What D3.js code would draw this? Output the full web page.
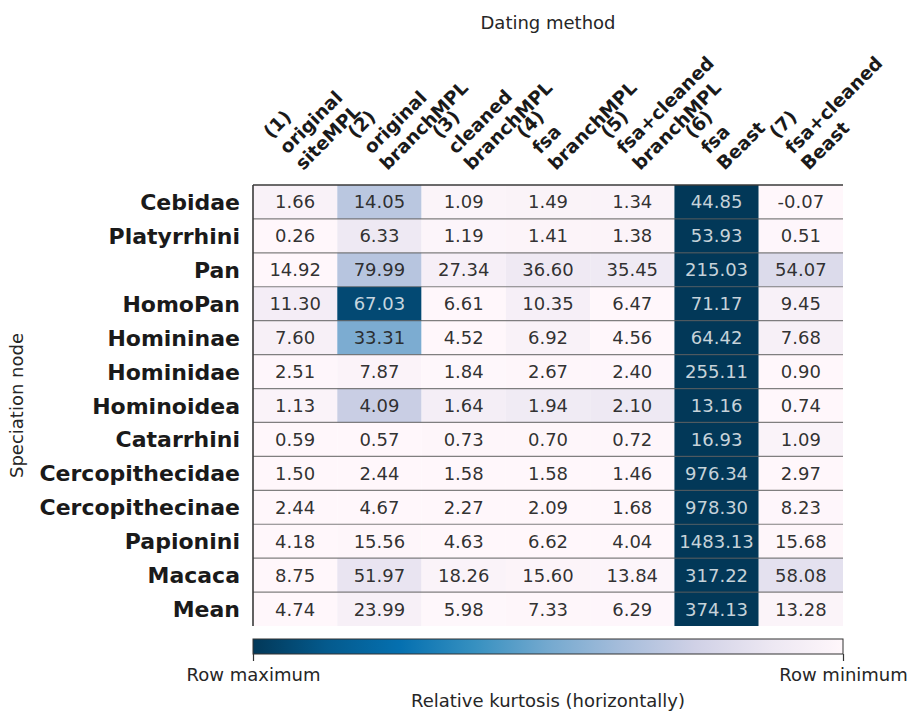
<!DOCTYPE html>
<html>
<head>
<meta charset="utf-8">
<script src="https://cdn.jsdelivr.net/npm/d3@7"></script>
<style>
  html, body { margin: 0; padding: 0; background: #fff; }
  svg { display: block; font-family: "DejaVu Sans", sans-serif; }
</style>
</head>
<body>
<svg id="chart" width="911" height="711"></svg>
<script>
// Speciation nodes (rows)
const speciationNodes = ["Cebidae", "Platyrrhini", "Pan", "HomoPan", "Homininae", "Hominidae",
  "Hominoidea", "Catarrhini", "Cercopithecidae", "Cercopithecinae", "Papionini", "Macaca", "Mean"];

// Dating methods (columns), each label split into its lines
const methodLabels = [
  ["(1)", "original", "siteMPL"],
  ["(2)", "original", "branchMPL"],
  ["(3)", "cleaned", "branchMPL"],
  ["(4)", "fsa", "branchMPL"],
  ["(5)", "fsa+cleaned", "branchMPL"],
  ["(6)", "fsa", "Beast"],
  ["(7)", "fsa+cleaned", "Beast"]
];

// Kurtosis per dating method, one value per speciation node
const originalSiteMPL     = [1.66, 0.26, 14.92, 11.30, 7.60, 2.51, 1.13, 0.59, 1.50, 2.44, 4.18, 8.75, 4.74];
const originalBranchMPL   = [14.05, 6.33, 79.99, 67.03, 33.31, 7.87, 4.09, 0.57, 2.44, 4.67, 15.56, 51.97, 23.99];
const cleanedBranchMPL    = [1.09, 1.19, 27.34, 6.61, 4.52, 1.84, 1.64, 0.73, 1.58, 2.27, 4.63, 18.26, 5.98];
const fsaBranchMPL        = [1.49, 1.41, 36.60, 10.35, 6.92, 2.67, 1.94, 0.70, 1.58, 2.09, 6.62, 15.60, 7.33];
const fsaCleanedBranchMPL = [1.34, 1.38, 35.45, 6.47, 4.56, 2.40, 2.10, 0.72, 1.46, 1.68, 4.04, 13.84, 6.29];
const fsaBeast            = [44.85, 53.93, 215.03, 71.17, 64.42, 255.11, 13.16, 16.93, 976.34, 978.30, 1483.13, 317.22, 374.13];
const fsaCleanedBeast     = [-0.07, 0.51, 54.07, 9.45, 7.68, 0.90, 0.74, 1.09, 2.97, 8.23, 15.68, 58.08, 13.28];

const methodSeries = [originalSiteMPL, originalBranchMPL, cleanedBranchMPL, fsaBranchMPL,
  fsaCleanedBranchMPL, fsaBeast, fsaCleanedBeast];

const colorbarLabels = ["Row maximum", "Row minimum"];

// PuBu colour ramp (light to dark)
const pubu = ["#fff7fb", "#ece7f2", "#d0d1e6", "#a6bddb", "#74a9cf", "#3690c0", "#0570b0", "#045a8d", "#023858"];

const svg = d3.select("#chart");
const plotLeft = 253, plotRight = 843, plotTop = 185, plotBottom = 626;

const x = d3.scaleBand().domain(d3.range(methodLabels.length)).range([plotLeft, plotRight]);
const y = d3.scaleBand().domain(speciationNodes).range([plotTop, plotBottom]);
const color = d3.scaleLinear()
  .domain(d3.range(pubu.length).map(i => i / (pubu.length - 1)))
  .range(pubu)
  .interpolate(d3.interpolateRgb)
  .clamp(true);

// Flatten into cells; colour is relative within each row
const cells = [];
speciationNodes.forEach((node, r) => {
  const row = methodSeries.map(s => s[r]);
  const lo = d3.min(row), hi = d3.max(row);
  row.forEach((v, c) => cells.push({ node, c, v, t: (v - lo) / (hi - lo) }));
});

function luminance(c) {
  const rgb = d3.rgb(c);
  const f = u => { u /= 255; return u <= 0.03928 ? u / 12.92 : Math.pow((u + 0.055) / 1.055, 2.4); };
  return 0.2126 * f(rgb.r) + 0.7152 * f(rgb.g) + 0.0722 * f(rgb.b);
}
const isLight = d => luminance(color(d.t)) > 0.3;

const g = svg.append("g");
g.selectAll("rect.cell").data(cells).join("rect")
  .attr("class", "cell")
  .attr("x", d => x(d.c))
  .attr("y", d => y(d.node))
  .attr("width", x.bandwidth())
  .attr("height", y.bandwidth())
  .attr("fill", d => color(d.t));

// Row separators
g.selectAll("line.sep").data(speciationNodes.slice(1)).join("line")
  .attr("class", "sep")
  .attr("x1", plotLeft).attr("x2", plotRight)
  .attr("y1", d => y(d)).attr("y2", d => y(d))
  .attr("stroke", "#555").attr("stroke-opacity", 0.75).attr("stroke-width", 1.2);

// Cell annotations
g.selectAll("text.val").data(cells).join("text")
  .attr("class", "val")
  .attr("x", d => x(d.c) + x.bandwidth() / 2)
  .attr("y", d => y(d.node) + y.bandwidth() / 2 + 6.5)
  .attr("text-anchor", "middle")
  .attr("font-size", 18)
  .attr("fill", d => isLight(d) ? "#262626" : "#ffffff")
  .attr("fill-opacity", d => isLight(d) ? 0.95 : 0.78)
  .text(d => d.v.toFixed(2));

// Frame: top and left spines
svg.append("line").attr("x1", plotLeft).attr("x2", plotRight).attr("y1", plotTop).attr("y2", plotTop)
  .attr("stroke", "#3a3a3a").attr("stroke-width", 1.6);
svg.append("line").attr("x1", plotLeft).attr("x2", plotLeft).attr("y1", plotTop).attr("y2", plotBottom)
  .attr("stroke", "#3a3a3a").attr("stroke-width", 1.6);

// Row labels
svg.append("g").selectAll("text").data(speciationNodes).join("text")
  .attr("x", plotLeft - 13)
  .attr("y", d => y(d) + y.bandwidth() / 2 + 8)
  .attr("text-anchor", "end")
  .attr("font-size", 22)
  .attr("font-weight", "bold")
  .attr("fill", "#1a1a1a")
  .text(d => d);

// Column labels, rotated 45 degrees, anchored at the last line
const lineStep = 22.5;
const colLabels = svg.append("g").selectAll("g").data(methodLabels).join("g")
  .attr("transform", (d, i) => `translate(${x(i) + x.bandwidth() / 2 + 8},171) rotate(-45)`);
colLabels.selectAll("text").data(d => d.map((s, k) => ({ s, k, n: d.length }))).join("text")
  .attr("x", 0)
  .attr("y", d => -(d.n - 1 - d.k) * lineStep)
  .attr("font-size", 18.5)
  .attr("font-weight", "bold")
  .attr("fill", "#1a1a1a")
  .text(d => d.s);

// Axis titles
svg.append("text").attr("x", (plotLeft + plotRight) / 2).attr("y", 29)
  .attr("text-anchor", "middle").attr("font-size", 18).attr("fill", "#262626")
  .text("Dating method");
svg.append("text")
  .attr("transform", `translate(23,${(plotTop + plotBottom) / 2}) rotate(-90)`)
  .attr("text-anchor", "middle").attr("font-size", 18).attr("fill", "#262626")
  .text("Speciation node");

// Colour bar: row maximum (dark) to row minimum (light)
const cbTop = 639, cbH = 15;
const grad = svg.append("defs").append("linearGradient").attr("id", "cbgrad")
  .attr("x1", "0%").attr("x2", "100%").attr("y1", "0%").attr("y2", "0%");
pubu.slice().reverse().forEach((c, i) => {
  grad.append("stop").attr("offset", `${(i / (pubu.length - 1)) * 100}%`).attr("stop-color", c);
});
svg.append("rect").attr("x", plotLeft).attr("y", cbTop).attr("width", plotRight - plotLeft).attr("height", cbH)
  .attr("fill", "url(#cbgrad)").attr("stroke", "#333").attr("stroke-width", 1);

const cbScale = d3.scalePoint().domain(colorbarLabels).range([plotLeft, plotRight]);
const cbAxis = svg.append("g").attr("transform", `translate(0,${cbTop + cbH})`)
  .call(d3.axisBottom(cbScale).tickSize(7).tickPadding(7));
cbAxis.select(".domain").remove();
cbAxis.selectAll(".tick line").attr("stroke", "#333").attr("stroke-width", 1.2);
cbAxis.selectAll(".tick text").attr("font-size", 18).attr("fill", "#262626")
  .attr("font-family", "DejaVu Sans");

svg.append("text").attr("x", (plotLeft + plotRight) / 2).attr("y", 707)
  .attr("text-anchor", "middle").attr("font-size", 18).attr("fill", "#262626")
  .text("Relative kurtosis (horizontally)");
</script>
</body>
</html>
